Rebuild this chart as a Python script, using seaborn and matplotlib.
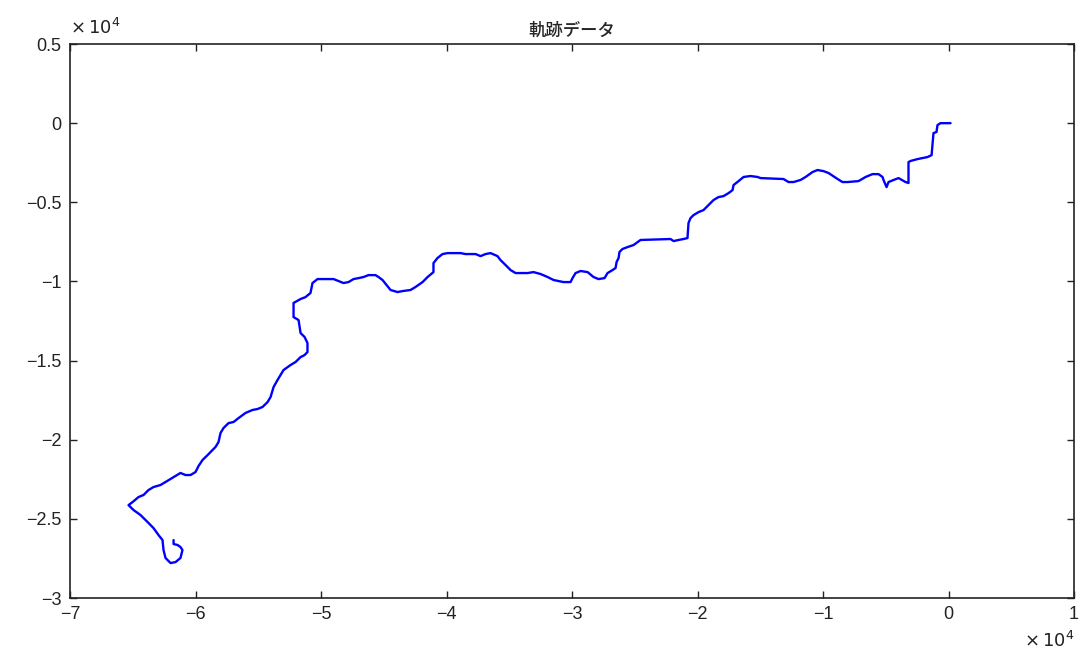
import matplotlib
matplotlib.use("Agg")
import matplotlib.pyplot as plt
import matplotlib.ticker as mticker
import numpy as np
import pandas as pd
import seaborn as sns

# Trajectory coordinates, in units of 1e4
x_e4 = [0.016, -0.064, -0.088, -0.096, -0.120, -0.127, -0.135, -0.167, -0.247, -0.303,
        -0.319, -0.319, -0.343, -0.398, -0.438, -0.478, -0.494, -0.518, -0.526, -0.558,
        -0.606, -0.661, -0.717, -0.805, -0.845, -0.884, -0.956, -0.996, -1.044, -1.084,
        -1.139, -1.179, -1.235, -1.275, -1.315, -1.498, -1.522, -1.578, -1.633, -1.673,
        -1.713, -1.721, -1.753, -1.793, -1.833, -1.873, -1.912, -1.952, -1.992, -2.032,
        -2.056, -2.072, -2.080, -2.112, -2.151, -2.191, -2.215, -2.454, -2.510, -2.558,
        -2.598, -2.622, -2.629, -2.645, -2.653, -2.677, -2.717, -2.741, -2.789, -2.829,
        -2.876, -2.932, -2.972, -2.996, -3.012, -3.068, -3.147, -3.195, -3.251, -3.307,
        -3.355, -3.450, -3.490, -3.530, -3.570, -3.594, -3.649, -3.689, -3.729, -3.769,
        -3.849, -3.888, -3.992, -4.032, -4.072, -4.104, -4.104, -4.151, -4.191, -4.247,
        -4.287, -4.351, -4.390, -4.446, -4.478, -4.510, -4.542, -4.566, -4.622, -4.661,
        -4.701, -4.741, -4.781, -4.821, -4.861, -4.900, -5.028, -5.068, -5.084, -5.124,
        -5.163, -5.219, -5.219, -5.179, -5.163, -5.131, -5.108, -5.108, -5.131, -5.163,
        -5.203, -5.243, -5.299, -5.323, -5.347, -5.378, -5.402, -5.426, -5.466, -5.506,
        -5.546, -5.602, -5.657, -5.697, -5.737, -5.777, -5.801, -5.817, -5.841, -5.880,
        -5.904, -5.944, -5.976, -6.000, -6.040, -6.080, -6.120, -6.175, -6.239, -6.279,
        -6.335, -6.375, -6.414, -6.454, -6.502, -6.534, -6.494, -6.438, -6.382, -6.335,
        -6.295, -6.263, -6.255, -6.239, -6.199, -6.159, -6.120, -6.104, -6.120, -6.143,
        -6.175, -6.175]
y_e4 = [0.000, 0.000, -0.012, -0.056, -0.063, -0.126, -0.202, -0.214, -0.227, -0.239,
        -0.246, -0.378, -0.372, -0.347, -0.359, -0.372, -0.404, -0.359, -0.340, -0.322,
        -0.322, -0.340, -0.366, -0.372, -0.372, -0.353, -0.315, -0.303, -0.296, -0.309,
        -0.340, -0.359, -0.372, -0.372, -0.353, -0.347, -0.340, -0.334, -0.340, -0.366,
        -0.391, -0.423, -0.442, -0.461, -0.467, -0.486, -0.517, -0.549, -0.562, -0.581,
        -0.600, -0.631, -0.726, -0.732, -0.738, -0.745, -0.732, -0.738, -0.770, -0.783,
        -0.795, -0.814, -0.852, -0.877, -0.915, -0.928, -0.947, -0.979, -0.985, -0.972,
        -0.941, -0.934, -0.947, -0.979, -1.004, -1.004, -0.991, -0.972, -0.953, -0.941,
        -0.947, -0.947, -0.928, -0.896, -0.865, -0.840, -0.821, -0.827, -0.840, -0.827,
        -0.827, -0.821, -0.821, -0.827, -0.852, -0.884, -0.941, -0.972, -1.004, -1.035,
        -1.054, -1.061, -1.067, -1.054, -1.023, -0.991, -0.972, -0.960, -0.960, -0.972,
        -0.979, -0.985, -1.004, -1.010, -0.997, -0.985, -0.985, -1.010, -1.073, -1.099,
        -1.111, -1.136, -1.225, -1.244, -1.326, -1.351, -1.389, -1.446, -1.465, -1.478,
        -1.509, -1.528, -1.560, -1.591, -1.623, -1.667, -1.730, -1.762, -1.793, -1.806,
        -1.812, -1.831, -1.863, -1.888, -1.895, -1.926, -1.958, -2.015, -2.046, -2.078,
        -2.097, -2.128, -2.166, -2.204, -2.223, -2.223, -2.210, -2.236, -2.267, -2.286,
        -2.299, -2.318, -2.349, -2.362, -2.394, -2.413, -2.444, -2.476, -2.520, -2.558,
        -2.602, -2.634, -2.697, -2.747, -2.779, -2.773, -2.747, -2.697, -2.678, -2.665,
        -2.659, -2.634]

x_ticks = [-7, -6, -5, -4, -3, -2, -1, 0, 1]
y_ticks = [-3, -2.5, -2, -1.5, -1, -0.5, 0, 0.5]
title = "軌跡データ"

sns.set_theme(style="ticks")
plt.rcParams["font.family"] = ["Liberation Sans", "Noto Sans CJK JP", "DejaVu Sans"]

df = pd.DataFrame({"x": x_e4, "y": y_e4, "step": np.arange(len(x_e4))})

fig = plt.figure(figsize=(10.79, 6.54), dpi=100)
ax = fig.add_axes([0.0649, 0.0856, 0.9305, 0.8471])

sns.lineplot(data=df, x="x", y="y", sort=False, estimator=None,
             color="#0000ff", linewidth=1.7, ax=ax)

ax.set_xlim(-7, 1)
ax.set_ylim(-3, 0.5)
ax.set_xticks(x_ticks)
ax.set_yticks(y_ticks)

fmt = mticker.FuncFormatter(lambda v, p: ("%g" % v).replace("-", "\u2212"))
ax.xaxis.set_major_formatter(fmt)
ax.yaxis.set_major_formatter(fmt)

ax.set_xlabel("")
ax.set_ylabel("")
for s in ax.spines.values():
    s.set_visible(True)
    s.set_linewidth(1.2)
    s.set_color("#222222")
ax.tick_params(direction="in", length=5, width=1.0, labelsize=13,
               top=True, right=True, pad=6, colors="#222222")

ax.set_title(title, fontsize=12.5, pad=6, fontweight="medium",
             family=["Noto Sans CJK JP", "DejaVu Sans"])

# exponent markers for both axes
ax.text(0.0, 1.010, r"$\times\,10^{4}$", transform=ax.transAxes,
        ha="left", va="bottom", fontsize=13, color="#222222")
ax.text(1.0, -0.060, r"$\times\,10^{4}$", transform=ax.transAxes,
        ha="right", va="top", fontsize=13, color="#222222")

fig.savefig("out.png", dpi=100, facecolor="white")
